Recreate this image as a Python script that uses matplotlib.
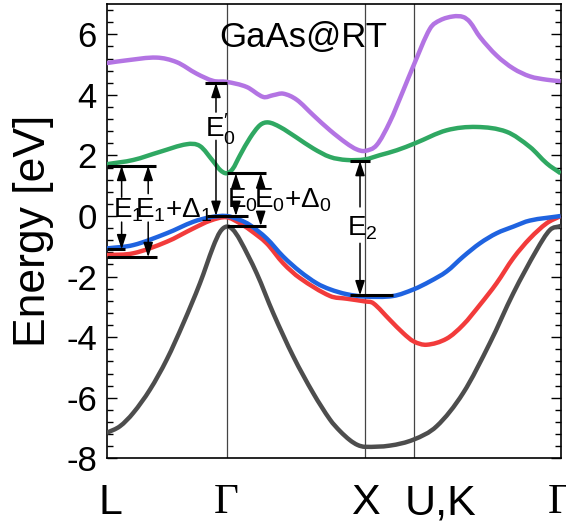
import matplotlib
matplotlib.use("Agg")
import matplotlib.pyplot as plt
from matplotlib.ticker import MultipleLocator
from matplotlib.path import Path
from matplotlib.patches import PathPatch

plt.rcParams['font.family'] = ['Liberation Sans', 'DejaVu Sans']
plt.rcParams['mathtext.fontset'] = 'custom'
plt.rcParams['mathtext.rm'] = 'Liberation Sans'
plt.rcParams['mathtext.it'] = 'Liberation Sans'
plt.rcParams['mathtext.bf'] = 'Liberation Sans'
plt.rcParams['axes.unicode_minus'] = False

# high-symmetry points (k-path in units of 2pi/a)
kpoint_labels = ['L', 'Γ', 'X', 'U,K', 'Γ']
kpoint_pos = [0.0, 0.866, 1.866, 2.220, 3.281]

# bands: (k, E in eV)
purple_k = [0.0, 0.145, 0.361, 0.506, 0.650, 0.771, 0.866, 1.012, 1.132, 1.204, 1.276,
            1.373, 1.493, 1.614, 1.734, 1.807, 1.867, 1.951, 2.047, 2.144, 2.219, 2.336,
            2.409, 2.505, 2.577, 2.626, 2.698, 2.818, 2.939, 3.059, 3.180, 3.281]
purple_E = [5.05, 5.14, 5.23, 5.08, 4.70, 4.46, 4.43, 4.26, 3.93, 3.99, 4.04,
            3.84, 3.33, 2.83, 2.40, 2.20, 2.15, 2.34, 3.11, 4.15, 4.98, 6.18,
            6.46, 6.59, 6.57, 6.40, 5.91, 5.30, 4.87, 4.61, 4.50, 4.45]

green_k = [0.0, 0.192, 0.386, 0.579, 0.674, 0.771, 0.820, 0.866, 0.910, 0.963, 1.036,
           1.108, 1.168, 1.252, 1.373, 1.493, 1.614, 1.734, 1.867, 1.975, 2.096, 2.228,
           2.457, 2.674, 2.891, 3.059, 3.180, 3.281]
green_E = [1.71, 1.85, 2.12, 2.37, 2.31, 1.80, 1.52, 1.41, 1.55, 2.00, 2.58,
           3.00, 3.09, 2.94, 2.59, 2.23, 1.95, 1.85, 1.87, 2.01, 2.17, 2.40,
           2.83, 2.94, 2.78, 2.28, 1.74, 1.41]

blue_k = [0.0, 0.192, 0.434, 0.626, 0.750, 0.866, 0.963, 1.036, 1.156, 1.276, 1.397,
          1.518, 1.614, 1.734, 1.867, 2.071, 2.219, 2.336, 2.457, 2.577, 2.698, 2.818,
          2.939, 3.059, 3.281]
blue_E = [-1.07, -0.96, -0.57, -0.19, -0.04, 0.0, -0.13, -0.30, -0.74, -1.34, -1.83,
          -2.22, -2.42, -2.58, -2.66, -2.64, -2.42, -2.16, -1.83, -1.34, -0.90, -0.57,
          -0.35, -0.15, 0.0]

red_k = [0.0, 0.192, 0.434, 0.626, 0.750, 0.866, 0.963, 1.036, 1.156, 1.276, 1.397,
         1.614, 1.734, 1.867, 1.927, 2.047, 2.144, 2.219, 2.313, 2.457, 2.577, 2.698,
         2.818, 2.939, 3.059, 3.180, 3.281]
red_E = [-1.29, -1.23, -0.85, -0.41, -0.15, -0.04, -0.24, -0.46, -0.90, -1.56, -2.05,
         -2.64, -2.73, -2.82, -2.88, -3.43, -3.87, -4.14, -4.25, -4.05, -3.59, -2.93,
         -2.22, -1.39, -0.74, -0.24, 0.0]

gray_k = [0.0, 0.096, 0.192, 0.313, 0.434, 0.554, 0.674, 0.770, 0.820, 0.866, 0.910,
          0.963, 1.084, 1.204, 1.349, 1.493, 1.614, 1.686, 1.758, 1.814, 1.867, 2.047,
          2.219, 2.385, 2.577, 2.770, 2.939, 3.108, 3.204, 3.281]
gray_E = [-7.16, -6.94, -6.50, -5.73, -4.74, -3.54, -2.22, -1.01, -0.52, -0.35, -0.44,
          -0.79, -1.89, -3.21, -4.64, -5.85, -6.72, -7.10, -7.40, -7.56, -7.62, -7.58,
          -7.38, -6.94, -5.84, -4.19, -2.55, -1.12, -0.46, -0.33]

# transition energy levels (eV)
E1_top, E1_low, E1D_low = 1.66, -1.10, -1.36
E0p_top, VBM, E0_top, SO = 4.40, 0.0, 1.41, -0.33
E2_top, E2_low = 1.82, -2.62

fig = plt.figure(figsize=(5.66, 5.25), dpi=100)
ax = fig.add_axes([0.1885, 0.127, 0.802, 0.8654])


def smooth_band(ax, xs, ys, **kw):
    """Draw a smooth curve through the read points (cubic Hermite as Bezier path)."""
    n = len(xs)
    slopes = []
    for i in range(n):
        if i == 0:
            m = (ys[1] - ys[0]) / (xs[1] - xs[0])
        elif i == n - 1:
            m = (ys[-1] - ys[-2]) / (xs[-1] - xs[-2])
        else:
            m = (ys[i + 1] - ys[i - 1]) / (xs[i + 1] - xs[i - 1])
        slopes.append(m)
    verts = [(xs[0], ys[0])]
    codes = [Path.MOVETO]
    for i in range(n - 1):
        h = xs[i + 1] - xs[i]
        verts += [(xs[i] + h / 3, ys[i] + slopes[i] * h / 3),
                  (xs[i + 1] - h / 3, ys[i + 1] - slopes[i + 1] * h / 3),
                  (xs[i + 1], ys[i + 1])]
        codes += [Path.CURVE4] * 3
    patch = PathPatch(Path(verts, codes), fill=False, capstyle='butt',
                      joinstyle='round', **kw)
    ax.add_patch(patch)


lw_band = 3.2
smooth_band(ax, gray_k, gray_E, edgecolor='#4d4d4d', lw=lw_band, zorder=3)
smooth_band(ax, red_k, red_E, edgecolor='#f23b3b', lw=lw_band, zorder=3)
smooth_band(ax, blue_k, blue_E, edgecolor='#1f63e0', lw=lw_band, zorder=4)
smooth_band(ax, green_k, green_E, edgecolor='#2fa862', lw=lw_band, zorder=3)
smooth_band(ax, purple_k, purple_E, edgecolor='#b374e3', lw=lw_band, zorder=3)

for xv in kpoint_pos[1:4]:
    ax.axvline(xv, color='#444444', lw=0.9, zorder=2)

ax.set_xlim(kpoint_pos[0], kpoint_pos[-1])
ax.set_ylim(-8, 7)


def bar(x0, x1, y):
    ax.plot([x0, x1], [y, y], color='black', lw=2.2, solid_capstyle='butt', zorder=6)


bar(0.0, 0.356, E1_top)
bar(0.0, 0.132, E1_low)
bar(0.0, 0.361, E1D_low)
bar(0.710, 0.866, E0p_top)
bar(0.725, 1.021, VBM)
bar(0.866, 1.149, E0_top)
bar(0.866, 1.149, SO)
bar(1.758, 1.903, E2_top)
bar(1.758, 2.069, E2_low)


def arrow(x, y_from, y_to):
    ax.annotate('', xy=(x, y_to), xytext=(x, y_from),
                arrowprops=dict(arrowstyle='-|>,head_length=0.55,head_width=0.18',
                                color='black', lw=1.1, shrinkA=0, shrinkB=0,
                                mutation_scale=16), zorder=7)


arrow(0.108, 0.62, E1_top)
arrow(0.108, -0.20, E1_low)
arrow(0.300, 0.74, E1_top)
arrow(0.300, -0.20, E1D_low)
arrow(0.790, 3.43, E0p_top)
arrow(0.790, 2.50, VBM)
arrow(0.934, 1.05, E0_top)
arrow(0.934, 0.25, VBM)
arrow(1.113, 1.05, E0_top)
arrow(1.113, 0.05, SO)
arrow(1.831, 0.30, E2_top)
arrow(1.831, -0.90, E2_low)

fs_ann = 20
ax.text(0.045, -0.05, 'E$_1$', fontsize=fs_ann, ha='left', va='baseline', zorder=8)
ax.text(0.205, -0.05, 'E$_1$+Δ$_1$', fontsize=fs_ann, ha='left', va='baseline', zorder=8)
ax.text(0.712, 2.60, r'E$_0^{\prime}$', fontsize=fs_ann, ha='left', va='baseline', zorder=8)
ax.text(0.873, 0.28, 'E$_0$', fontsize=fs_ann, ha='left', va='baseline', zorder=8)
ax.text(1.068, 0.28, 'E$_0$+Δ$_0$', fontsize=fs_ann, ha='left', va='baseline', zorder=8)
ax.text(1.740, -0.63, 'E$_2$', fontsize=fs_ann, ha='left', va='baseline', zorder=8)

ax.text(1.422, 5.57, 'GaAs@RT', fontsize=25, ha='center', va='baseline', zorder=8)

# axes styling: labels sit slightly right of L and of the U,K line in the original
label_offsets = [0.03, 0.0, 0.0, 0.19, 0.0]
ax.set_xticks([p + o for p, o in zip(kpoint_pos, label_offsets)])
ax.set_xticklabels(kpoint_labels)
for lbl in ax.get_xticklabels():
    lbl.set_fontsize(31)
    if lbl.get_text() == 'Γ':
        lbl.set_fontfamily(['Liberation Serif', 'DejaVu Serif'])
ax.tick_params(axis='x', length=0, pad=18)

ax.yaxis.set_major_locator(MultipleLocator(2))
ax.yaxis.set_minor_locator(MultipleLocator(0.4))
ax.tick_params(axis='y', which='both', direction='in', left=True, right=True, labelsize=25, pad=7)
ax.tick_params(axis='y', which='major', length=7, width=1.0)
ax.tick_params(axis='y', which='minor', length=4, width=1.0)
for s in ax.spines.values():
    s.set_linewidth(1.2)

ax.set_ylabel('Energy [eV]', fontsize=32)
ax.yaxis.set_label_coords(-0.115, 0.5)

fig.savefig('out.png', dpi=100)
